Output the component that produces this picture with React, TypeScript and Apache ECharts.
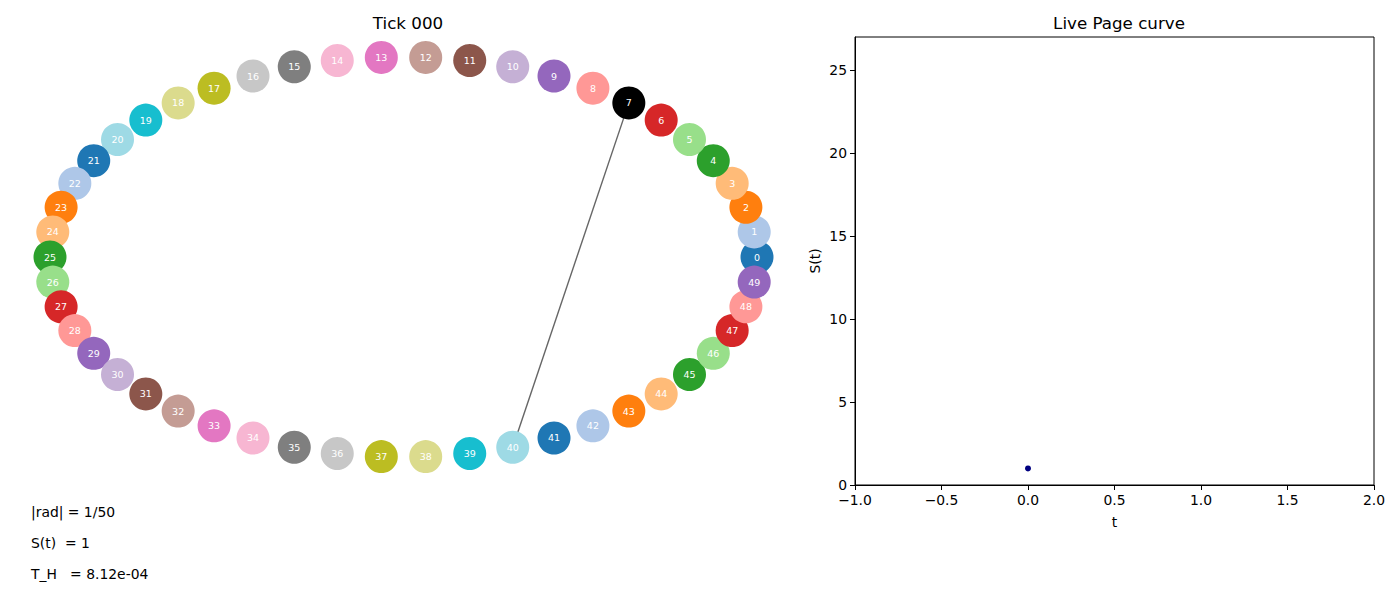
import React, { useEffect, useRef } from "react";
import * as echarts from "echarts";

const N_NODES = 50;
const nodeIds: number[] = Array.from({ length: N_NODES }, (_, i) => i);
const nodeColors: string[] = [
  "#1f77b4", "#aec7e8", "#ff7f0e", "#ffbb78", "#2ca02c", "#98df8a", "#d62728", "#000000", "#ff9896", "#9467bd",
  "#c5b0d5", "#8c564b", "#c49c94", "#e377c2", "#f7b6d2", "#7f7f7f", "#c7c7c7", "#bcbd22", "#dbdb8d", "#17becf",
  "#9edae5", "#1f77b4", "#aec7e8", "#ff7f0e", "#ffbb78", "#2ca02c", "#98df8a", "#d62728", "#ff9896", "#9467bd",
  "#c5b0d5", "#8c564b", "#c49c94", "#e377c2", "#f7b6d2", "#7f7f7f", "#c7c7c7", "#bcbd22", "#dbdb8d", "#17becf",
  "#9edae5", "#1f77b4", "#aec7e8", "#ff7f0e", "#ffbb78", "#2ca02c", "#98df8a", "#d62728", "#ff9896", "#9467bd",
];
const links: [number, number][] = [[7, 40]];
const curveT: number[] = [0];
const curveS: number[] = [1];
const infoLines: string[] = ["|rad| = 1/50", "S(t)  = 1", "T_H   = 8.12e-04"];
const leftTitle = "Tick 000";
const rightTitle = "Live Page curve";
const yTicks: number[] = [0, 5, 10, 15, 20, 25];
const xTicks: number[] = [-1, -0.5, 0, 0.5, 1, 1.5, 2];

const FONT = "DejaVu Sans";

function nodePos(i: number): [number, number] {
  const a = (2 * Math.PI * i) / N_NODES;
  return [Math.cos(a), Math.sin(a)];
}

export default function App() {
  const ref = useRef<HTMLDivElement>(null);
  useEffect(() => {
    if (!ref.current) return;
    const chart = echarts.init(ref.current, undefined, { renderer: "svg" });
    const fmtX = (v: number) => (v < 0 ? "\u2212" : "") + Math.abs(v).toFixed(1);
    const option: any = {
      animation: false,
      backgroundColor: "#ffffff",
      textStyle: { fontFamily: FONT },
      title: [
        {
          text: leftTitle,
          left: 403,
          top: 9,
          textAlign: "center",
          textStyle: { fontFamily: FONT, fontSize: 16.7, fontWeight: "normal", color: "#000" },
        },
        {
          text: rightTitle,
          left: 1114,
          top: 9,
          textAlign: "center",
          textStyle: { fontFamily: FONT, fontSize: 16.7, fontWeight: "normal", color: "#000" },
        },
      ],
      grid: [
        { left: 50, top: 57, width: 707, height: 400, show: false },
        {
          left: 855,
          top: 37,
          width: 519,
          height: 448,
          show: true,
          borderColor: "#000",
          borderWidth: 1,
          backgroundColor: "transparent",
        },
      ],
      xAxis: [
        { gridIndex: 0, type: "value", min: -1, max: 1, show: false },
        {
          gridIndex: 1,
          type: "value",
          min: -1,
          max: 2,
          interval: 0.5,
          name: "t",
          nameLocation: "middle",
          nameGap: 30,
          nameTextStyle: { fontFamily: FONT, fontSize: 13.9, color: "#000" },
          axisLine: { show: true, onZero: false, lineStyle: { color: "#000", width: 1 } },
          axisTick: { show: true, length: 5, lineStyle: { color: "#000" }, customValues: xTicks },
          axisLabel: {
            show: true,
            color: "#000",
            fontFamily: FONT,
            fontSize: 13.9,
            margin: 8,
            formatter: fmtX,
            customValues: xTicks,
          },
          splitLine: { show: false },
        },
      ],
      yAxis: [
        { gridIndex: 0, type: "value", min: -1, max: 1, show: false },
        {
          gridIndex: 1,
          type: "value",
          min: 0,
          max: 27,
          interval: 5,
          name: "S(t)",
          nameLocation: "middle",
          nameGap: 33,
          nameRotate: 90,
          nameTextStyle: { fontFamily: FONT, fontSize: 13.9, color: "#000" },
          axisLine: { show: true, onZero: false, lineStyle: { color: "#000", width: 1 } },
          axisTick: { show: true, length: 5, lineStyle: { color: "#000" }, customValues: yTicks },
          axisLabel: {
            show: true,
            color: "#000",
            fontFamily: FONT,
            fontSize: 13.9,
            margin: 8,
            customValues: yTicks,
          },
          splitLine: { show: false },
        },
      ],
      series: [
        ...links.map(([a, b]) => ({
          type: "line",
          xAxisIndex: 0,
          yAxisIndex: 0,
          data: [nodePos(a), nodePos(b)],
          symbol: "none",
          lineStyle: { color: "#666666", width: 1.4 },
          z: 1,
          silent: true,
        })),
        {
          type: "scatter",
          xAxisIndex: 0,
          yAxisIndex: 0,
          clip: false,
          symbol: "circle",
          symbolSize: 33,
          z: 3,
          data: nodeIds.map((i) => ({
            value: nodePos(i),
            itemStyle: { color: nodeColors[i], opacity: 1 },
            label: {
              show: true,
              position: "inside",
              formatter: String(i),
              color: "#ffffff",
              fontFamily: FONT,
              fontSize: 9.5,
            },
          })),
        },
        {
          type: "scatter",
          xAxisIndex: 1,
          yAxisIndex: 1,
          symbol: "circle",
          symbolSize: 6,
          itemStyle: { color: "#000080", opacity: 1 },
          data: curveT.map((t, i) => [t, curveS[i]]),
          z: 3,
        },
      ],
      graphic: infoLines.map((txt, i) => ({
        type: "text",
        left: 31,
        top: 505 + i * 31,
        style: {
          text: txt,
          fill: "#000",
          fontFamily: FONT,
          fontSize: 13.9,
        },
      })),
    };
    chart.setOption(option);
    return () => chart.dispose();
  }, []);
  return (
    <div
      ref={ref}
      style={{ position: "fixed", left: 0, top: 0, width: 1400, height: 600, background: "#fff" }}
    />
  );
}
